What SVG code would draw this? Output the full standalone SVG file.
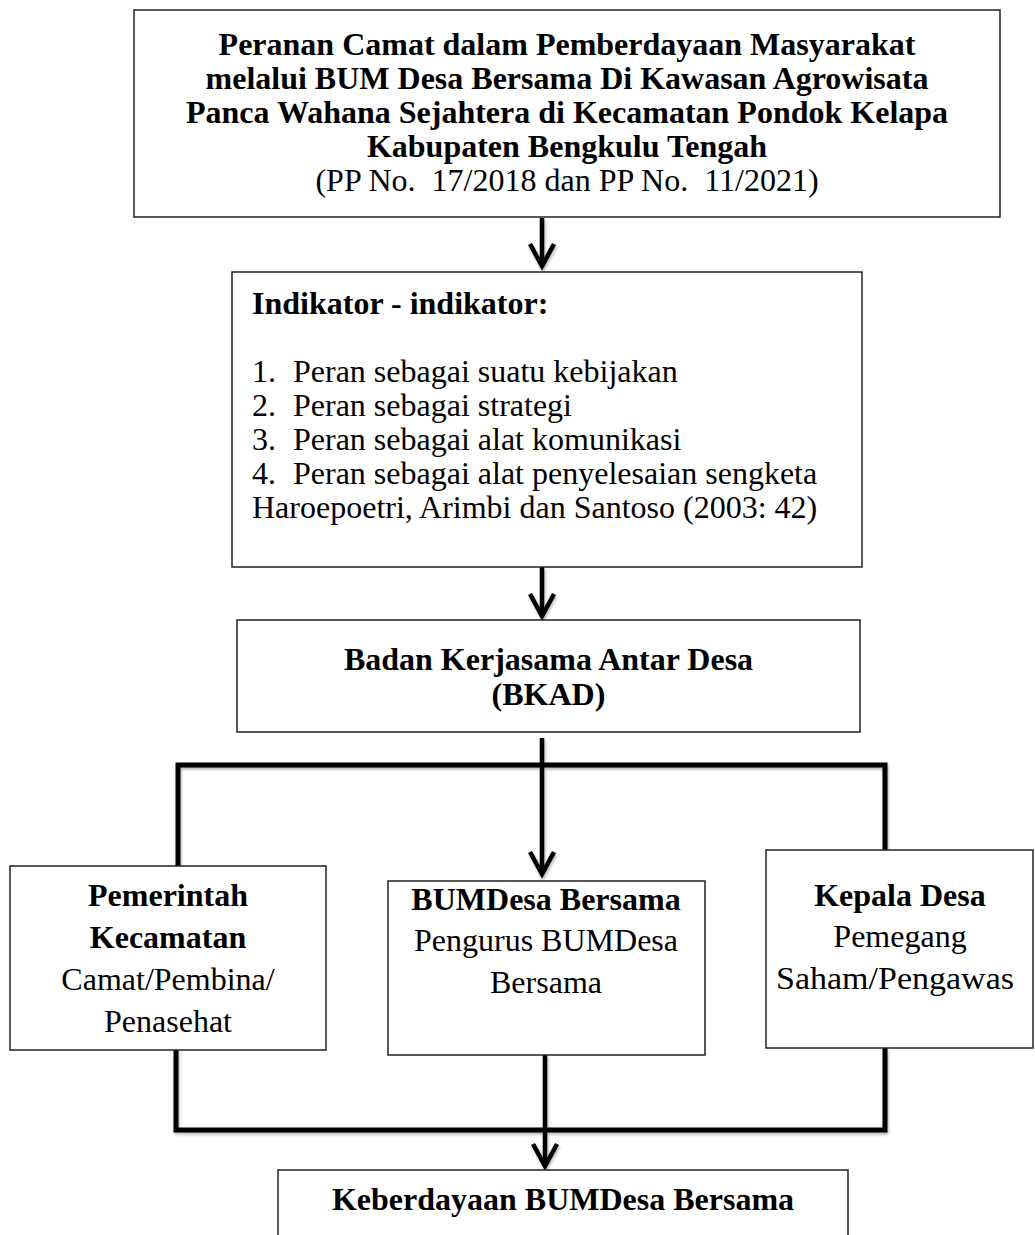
<svg xmlns="http://www.w3.org/2000/svg" width="1035" height="1235" viewBox="0 0 1035 1235">
<style>
.box{fill:#fff;stroke:#222;stroke-width:1.5}
.t{font-family:"Liberation Serif","Times New Roman",serif;font-size:32px;fill:#000}
.b{font-weight:bold}
.c{text-anchor:middle}
.conn{fill:none;stroke:#000;stroke-width:5;stroke-linejoin:miter}
.arr{fill:none;stroke:#000;stroke-width:4.5;marker-end:url(#arrow)}
</style>
<defs>
<marker id="arrow" markerUnits="userSpaceOnUse" markerWidth="34" markerHeight="34" viewBox="-28 -17 34 34" refX="0" refY="0" orient="auto">
<path d="M-22,-12 L0,0 L-22,12" fill="none" stroke="#000" stroke-width="4.5" stroke-linejoin="miter"/>
</marker>
<filter id="sh" x="-20%" y="-20%" width="140%" height="140%">
<feDropShadow dx="1" dy="2" stdDeviation="1.5" flood-color="#000" flood-opacity="0.3"/>
</filter>
</defs>
<rect width="1035" height="1235" fill="#fff"/>

<g id="connectors" filter="url(#sh)">
<path class="arr" d="M542,218 V266"/>
<path class="arr" d="M542,567 V616"/>
<path class="conn" d="M178,866 V765 H885 V850"/>
<path class="arr" d="M542,738 V874"/>
<path class="conn" d="M176,1050 V1130 H885 V1048"/>
<path class="arr" d="M545,1055 V1166"/>
</g>

<g id="node-title">
<rect class="box" x="134" y="10" width="866" height="207"/>
<text class="t b c" x="567" y="55">Peranan Camat dalam Pemberdayaan Masyarakat</text>
<text class="t b c" x="567" y="89">melalui BUM Desa Bersama Di Kawasan Agrowisata</text>
<text class="t b c" x="567" y="123">Panca Wahana Sejahtera di Kecamatan Pondok Kelapa</text>
<text class="t b c" x="567" y="157">Kabupaten Bengkulu Tengah</text>
<text class="t c" x="567" y="191" xml:space="preserve">(PP No.  17/2018 dan PP No.  11/2021)</text>
</g>

<g id="node-indikator">
<rect class="box" x="232" y="272" width="630" height="295"/>
<text class="t b" x="252" y="314">Indikator - indikator:</text>
<text class="t" x="252" y="382">1.</text><text class="t" x="293" y="382">Peran sebagai suatu kebijakan</text>
<text class="t" x="252" y="416">2.</text><text class="t" x="293" y="416">Peran sebagai strategi</text>
<text class="t" x="252" y="450">3.</text><text class="t" x="293" y="450">Peran sebagai alat komunikasi</text>
<text class="t" x="252" y="484">4.</text><text class="t" x="293" y="484">Peran sebagai alat penyelesaian sengketa</text>
<text class="t" x="252" y="518">Haroepoetri, Arimbi dan Santoso (2003: 42)</text>
</g>

<g id="node-bkad">
<rect class="box" x="237" y="620" width="623" height="112"/>
<text class="t b c" x="548.5" y="670">Badan Kerjasama Antar Desa</text>
<text class="t b c" x="548.5" y="705">(BKAD)</text>
</g>

<g id="node-kecamatan">
<rect class="box" x="10" y="866" width="316" height="184"/>
<text class="t b c" x="168" y="906">Pemerintah</text>
<text class="t b c" x="168" y="948">Kecamatan</text>
<text class="t c" x="168" y="990">Camat/Pembina/</text>
<text class="t c" x="168" y="1032">Penasehat</text>
</g>

<g id="node-bumdesa">
<rect class="box" x="388" y="881" width="317" height="174"/>
<text class="t b c" x="546" y="910">BUMDesa Bersama</text>
<text class="t c" x="546" y="951">Pengurus BUMDesa</text>
<text class="t c" x="546" y="993">Bersama</text>
</g>

<g id="node-kepala">
<rect class="box" x="766" y="850" width="267" height="198"/>
<text class="t b c" x="900" y="906">Kepala Desa</text>
<text class="t c" x="900" y="947">Pemegang</text>
<text class="t c" x="895" y="989" textLength="238" lengthAdjust="spacingAndGlyphs">Saham/Pengawas</text>
</g>

<g id="node-keberdayaan">
<rect class="box" x="278" y="1170" width="570" height="80"/>
<text class="t b c" x="563" y="1210">Keberdayaan BUMDesa Bersama</text>
</g>
</svg>
